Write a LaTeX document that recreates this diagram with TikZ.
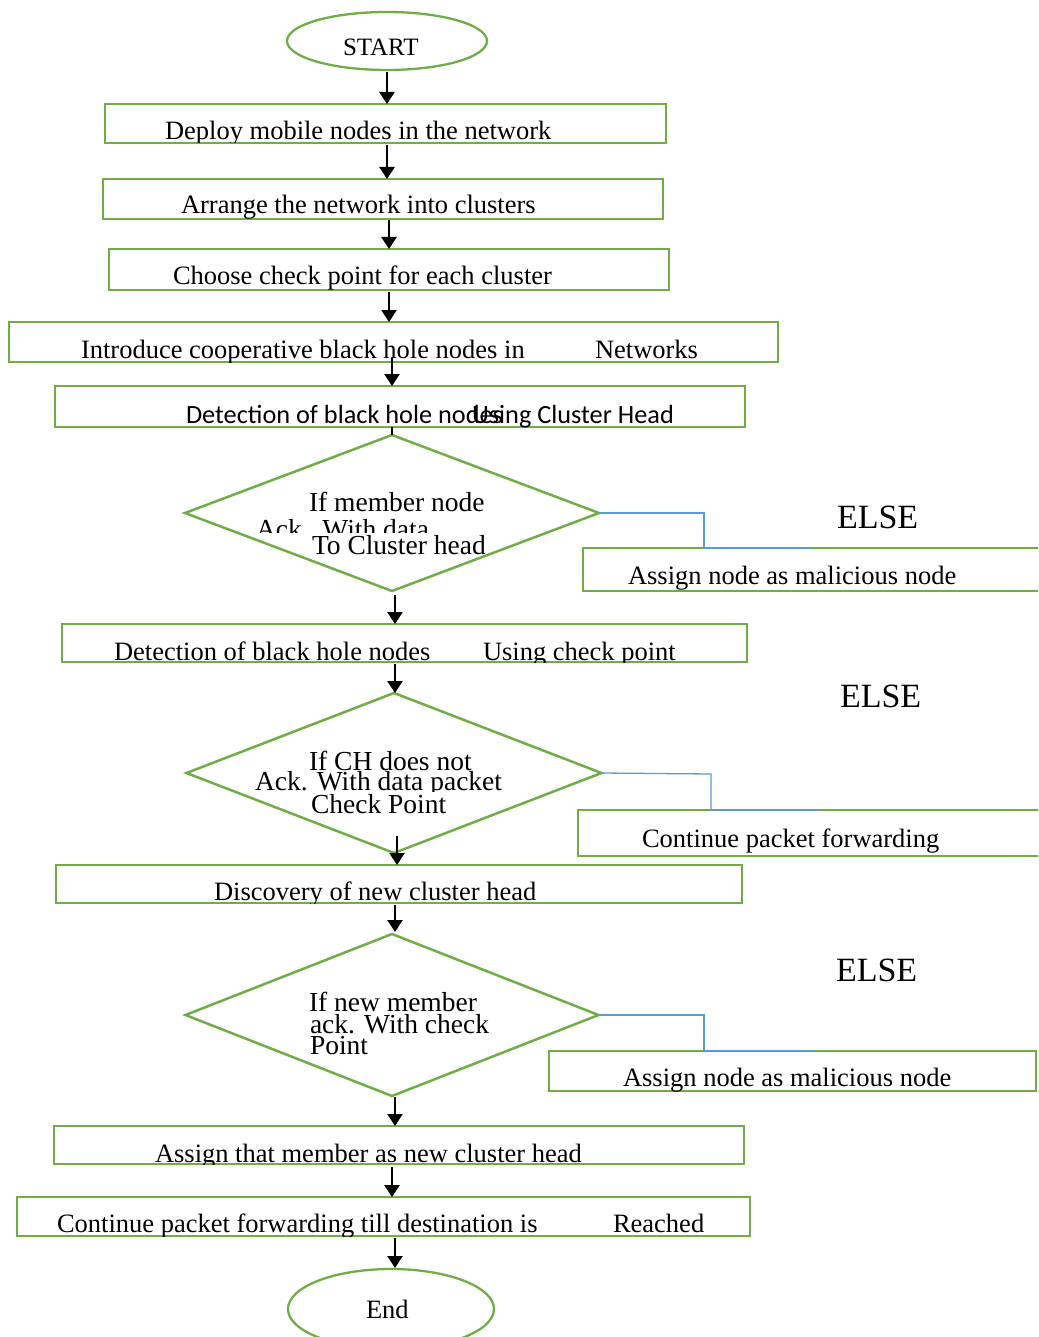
\documentclass[tikz,border=0pt]{standalone}
\usepackage{fontspec}
\setmainfont{Liberation Serif}
\newfontfamily\calfont{Carlito}
\usetikzlibrary{shapes.geometric,arrows.meta,calc}
\definecolor{grn}{HTML}{70AD47}
\definecolor{blu}{HTML}{5B9BD5}
\tikzset{
 box/.style={draw=grn, line width=2.3pt, rectangle, inner sep=0pt, outer sep=0pt},
 dia/.style={draw=grn, line width=2.5pt, diamond, inner sep=0pt, outer sep=0pt},
 oval/.style={draw=grn, line width=2.3pt, ellipse, inner sep=0pt, outer sep=0pt},
 txt/.style={anchor=base west, inner sep=0pt, outer sep=0pt, font=\fontsize{26.5}{30}\selectfont},
 dtxt/.style={anchor=base west, inner sep=0pt, outer sep=0pt, font=\fontsize{27.5}{30}\selectfont},
 stxt/.style={anchor=base west, inner sep=0pt, outer sep=0pt, font=\calfont\fontsize{26.3}{30}\selectfont},
 els/.style={anchor=base west, inner sep=0pt, outer sep=0pt, font=\fontsize{34}{38}\selectfont},
 arr/.style={line width=2.6pt, -{Triangle[length=12pt,width=15pt]}},
 ln/.style={line width=2.6pt},
 elsline/.style={draw=blu, line width=1.3pt},
}
\newcommand\bxtxt[5]{%
 \begin{scope}\clip (#1.north west) rectangle (#1.south east);
 \node[#3] (#2) at (#4) {#5};\end{scope}}
\begin{document}
\begin{tikzpicture}[x=1pt,y=-1pt]
\useasboundingbox (0,0) rectangle (1038,1337);
\clip (0,0) rectangle (1038,1337);
% column coordinates
\coordinate (c387) at (387,0);
\coordinate (c389) at (389,0);
\coordinate (c392) at (392,0);
\coordinate (c395) at (395,0);
\coordinate (c397) at (397,0);
% shapes
\node[oval, minimum width=200, minimum height=58] (start) at (387,41) {};
\node[box, minimum width=561, minimum height=39] (b1) at (385.5,123.5) {};
\node[box, minimum width=560, minimum height=40] (b2) at (383,199) {};
\node[box, minimum width=560, minimum height=41] (b3) at (389,269.5) {};
\node[box, minimum width=769, minimum height=40] (b4) at (393.5,342) {};
\node[box, minimum width=690, minimum height=41] (b5) at (400,406.5) {};
\node[dia, minimum width=414, minimum height=156] (d1) at (392,513) {};
\node[box, minimum width=477, minimum height=43] (b6) at (821.5,569.5) {};
\node[box, minimum width=685, minimum height=38] (b7) at (404.5,643) {};
\node[dia, minimum width=415, minimum height=160] (d2) at (394,773) {};
\node[box, minimum width=482, minimum height=46] (b8) at (819,833) {};
\node[box, minimum width=686, minimum height=38] (b9) at (399,884) {};
\node[dia, minimum width=413, minimum height=162] (d3) at (392,1015) {};
\node[box, minimum width=487, minimum height=40] (b10) at (792.5,1071) {};
\node[box, minimum width=690, minimum height=38] (b11) at (399,1145) {};
\node[box, minimum width=733, minimum height=39] (b12) at (383.5,1216.5) {};
\node[oval, minimum width=206, minimum height=80] (end) at (391,1309) {};
% texts
\node[txt, font=\fontsize{25}{30}\selectfont] (tstart) at (343,56) {START};
\node[txt] (tend) at (366,1318) {End};
\bxtxt{b1}{t1}{txt}{165,140}{Deploy mobile nodes in the network}
\bxtxt{b2}{t2}{txt}{181,214}{Arrange the network into clusters}
\bxtxt{b3}{t3}{txt}{173,285}{Choose check point for each cluster}
\bxtxt{b4}{t4a}{txt}{81,358}{Introduce cooperative black hole nodes in}
\bxtxt{b4}{t4b}{txt}{595,358}{Networks}
\bxtxt{b5}{t5a}{stxt}{186,423}{Detection of black hole nodes}
\bxtxt{b5}{t5b}{stxt}{472,423}{Using Cluster Head}
\bxtxt{b6}{t6}{txt}{628,584}{Assign node as malicious node}
\bxtxt{b7}{t7a}{txt}{114,660}{Detection of black hole nodes}
\bxtxt{b7}{t7b}{txt}{483,660}{Using check point}
\bxtxt{b8}{t8}{txt}{642,847}{Continue packet forwarding}
\bxtxt{b9}{t9}{txt}{214,900}{Discovery of new cluster head}
\bxtxt{b10}{t10}{txt}{623,1086}{Assign node as malicious node}
\bxtxt{b11}{t11}{txt}{155,1162}{Assign that member as new cluster head}
\bxtxt{b12}{t12a}{txt}{57,1232}{Continue packet forwarding till destination is}
\bxtxt{b12}{t12b}{txt}{613,1232}{Reached}
% diamond texts
\node[dtxt] (d1a) at (309,511) {If member node};
\begin{scope}\clip (0,440) rectangle (1038,532);
\node[dtxt] (d1b) at (256,538) {Ack.\ \ With data};\end{scope}
\node[dtxt] (d1c) at (312,554) {To Cluster head};
\node[dtxt] (d2a) at (309,770) {If CH does not};
\begin{scope}\clip (0,700) rectangle (1038,791);
\node[dtxt] (d2b) at (255,790) {Ack. With data packet};\end{scope}
\node[dtxt] (d2c) at (311,813) {Check Point};
\node[dtxt] (d3a) at (309,1011) {If new member};
\node[dtxt] (d3b) at (310,1033) {ack. With check};
\node[dtxt] (d3c) at (310,1054) {Point};
% ELSE labels
\node[els] (e1) at (837,528) {ELSE};
\node[els] (e2) at (840,707) {ELSE};
\node[els] (e3) at (836,981) {ELSE};
% arrows
\draw[arr] ($(start.south -| c387)+(0,2)$) -- (b1.north -| c387);
\draw[arr] ($(b1.south -| c387)+(0,2)$) -- (b2.north -| c387);
\draw[arr] ($(b2.south -| c389)+(0,1)$) -- (b3.north -| c389);
\draw[arr] ($(b3.south -| c389)+(0,2)$) -- (b4.north -| c389);
\draw[arr] ($(b4.south -| c392)+(0,-4)$) -- (b5.north -| c392);
\draw[ln] (b5.south -| c392) -- (d1.north);
\draw[arr] ($(d1.south -| c395)+(0,4)$) -- (b7.north -| c395);
\draw[arr] ($(b7.south -| c395)+(0,2)$) -- (d2.north -| c395);
\draw[arr] ($(d2.south -| c397)+(0,-17)$) -- (b9.north -| c397);
\draw[arr] ($(b9.south -| c395)+(0,2)$) -- ($(d3.north -| c395)+(0,-2)$);
\draw[arr] ($(d3.south -| c395)+(0,1)$) -- (b11.north -| c395);
\draw[arr] ($(b11.south -| c392)+(0,3)$) -- (b12.north -| c392);
\draw[arr] ($(b12.south -| c395)+(0,2)$) -- ($(end.north -| c395)+(0,-1)$);
% ELSE connectors
\coordinate (f1) at (812,548);
\coordinate (f2) at (819,810);
\coordinate (f3) at (813,1051);
\draw[elsline] (d1.east) -- (704,513) -- (704,548) -- (f1);
\draw[elsline] (d2.east) -- (711,774) -- (711,810) -- (f2);
\draw[elsline] (d3.east) -- (704,1015) -- (704,1051) -- (f3);
\end{tikzpicture}
\end{document}
